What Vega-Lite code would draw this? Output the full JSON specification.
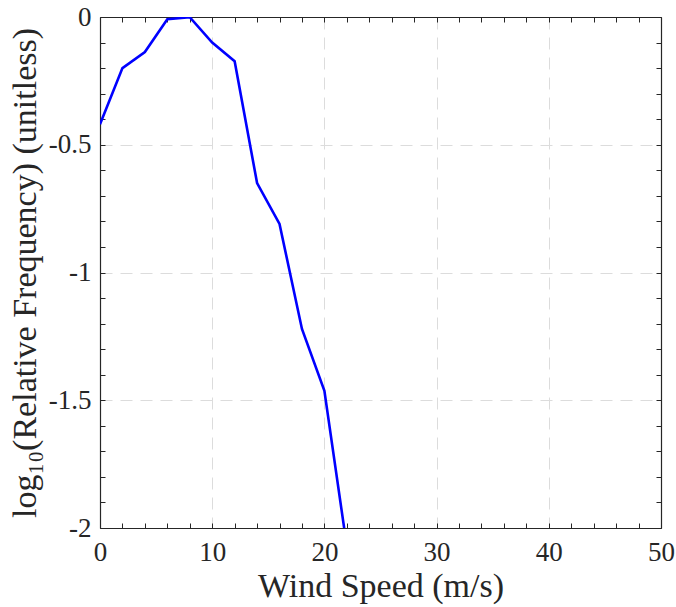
{
  "$schema": "https://vega.github.io/schema/vega-lite/v6.json",
  "autosize": "none",
  "width": 561,
  "height": 511,
  "padding": {"left": 100, "top": 17, "right": 15, "bottom": 79},
  "background": "white",
  "config": {
    "view": {"stroke": null},
    "font": "'Liberation Serif', serif",
    "axis": {
      "labelFont": "'Liberation Serif', serif",
      "titleFont": "'Liberation Serif', serif",
      "labelColor": "#262626",
      "titleColor": "#262626",
      "domainColor": "#262626",
      "tickColor": "#262626",
      "titleFontWeight": "normal",
      "labelFontSize": 27,
      "titleFontSize": 34
    }
  },
  "data": {
    "values": [
      {"speed": 0, "logfreq": -0.42},
      {"speed": 2, "logfreq": -0.2},
      {"speed": 4, "logfreq": -0.137},
      {"speed": 6, "logfreq": -0.009},
      {"speed": 8, "logfreq": -0.001},
      {"speed": 10, "logfreq": -0.1},
      {"speed": 12, "logfreq": -0.173},
      {"speed": 14, "logfreq": -0.65},
      {"speed": 16, "logfreq": -0.81},
      {"speed": 18, "logfreq": -1.221},
      {"speed": 20, "logfreq": -1.463},
      {"speed": 22, "logfreq": -2.073}
    ]
  },
  "resolve": {"axis": {"x": "independent", "y": "independent"}},
  "layer": [
    {
      "mark": {"type": "line", "strokeOpacity": 0},
      "encoding": {
        "x": {"field": "speed", "type": "quantitative",
          "scale": {"domain": [0, 50], "nice": false, "zero": false},
          "axis": {"orient": "bottom", "values": [0,2,4,6,8,10,12,14,16,18,20,22,24,26,28,30,32,34,36,38,40,42,44,46,48,50],
            "labels": false, "domain": false, "grid": false, "title": null, "ticks": true, "tickSize": -5, "tickWidth": 1}},
        "y": {"field": "logfreq", "type": "quantitative",
          "scale": {"domain": [-2, 0], "nice": false, "zero": false},
          "axis": {"orient": "left", "values": [-2,-1.9,-1.8,-1.7,-1.6,-1.5,-1.4,-1.3,-1.2,-1.1,-1,-0.9,-0.8,-0.7,-0.6,-0.5,-0.4,-0.3,-0.2,-0.1,0],
            "labels": false, "domain": false, "grid": false, "title": null, "ticks": true, "tickSize": -5, "tickWidth": 1}}
      }
    },
    {
      "mark": {"type": "line", "strokeOpacity": 0},
      "encoding": {
        "x": {"field": "speed", "type": "quantitative",
          "scale": {"domain": [0, 50], "nice": false, "zero": false},
          "axis": {"orient": "top", "values": [0,2,4,6,8,10,12,14,16,18,20,22,24,26,28,30,32,34,36,38,40,42,44,46,48,50],
            "labels": false, "domain": true, "domainWidth": 1.2, "grid": false, "title": null, "ticks": true, "tickSize": -5, "tickWidth": 1}},
        "y": {"field": "logfreq", "type": "quantitative",
          "scale": {"domain": [-2, 0], "nice": false, "zero": false},
          "axis": {"orient": "right", "values": [-2,-1.9,-1.8,-1.7,-1.6,-1.5,-1.4,-1.3,-1.2,-1.1,-1,-0.9,-0.8,-0.7,-0.6,-0.5,-0.4,-0.3,-0.2,-0.1,0],
            "labels": false, "domain": true, "domainWidth": 1.2, "grid": false, "title": null, "ticks": true, "tickSize": -5, "tickWidth": 1}}
      }
    },
    {
      "mark": {"type": "line", "color": "#0000ff", "strokeWidth": 2.6, "clip": true},
      "encoding": {
        "x": {"field": "speed", "type": "quantitative",
          "scale": {"domain": [0, 50], "nice": false, "zero": false},
          "axis": {"orient": "bottom", "values": [0, 10, 20, 30, 40, 50], "ticks": false, "domain": true, "domainWidth": 1.2,
            "grid": true, "gridColor": "#dcdcdc", "gridDash": [12, 8], "gridWidth": 1,
            "labelFont": "'Liberation Serif', serif",
            "labelPadding": 11, "labelFlush": false, "labelExpr": "'' + datum.value",
            "title": "Wind Speed (m/s)", "titlePadding": 4}},
        "y": {"field": "logfreq", "type": "quantitative",
          "scale": {"domain": [-2, 0], "nice": false, "zero": false},
          "axis": {"orient": "left", "values": [-2, -1.5, -1, -0.5, 0], "ticks": false, "domain": true, "domainWidth": 1.2,
            "grid": true, "gridColor": "#dcdcdc", "gridDash": [12, 8], "gridWidth": 1,
            "labelFont": "'Liberation Serif', serif",
            "labelPadding": 9, "labelFlush": false, "labelExpr": "'' + datum.value",
            "title": "log₁₀(Relative Frequency)  (unitless)", "titlePadding": 6}}
      }
    }
  ]
}
